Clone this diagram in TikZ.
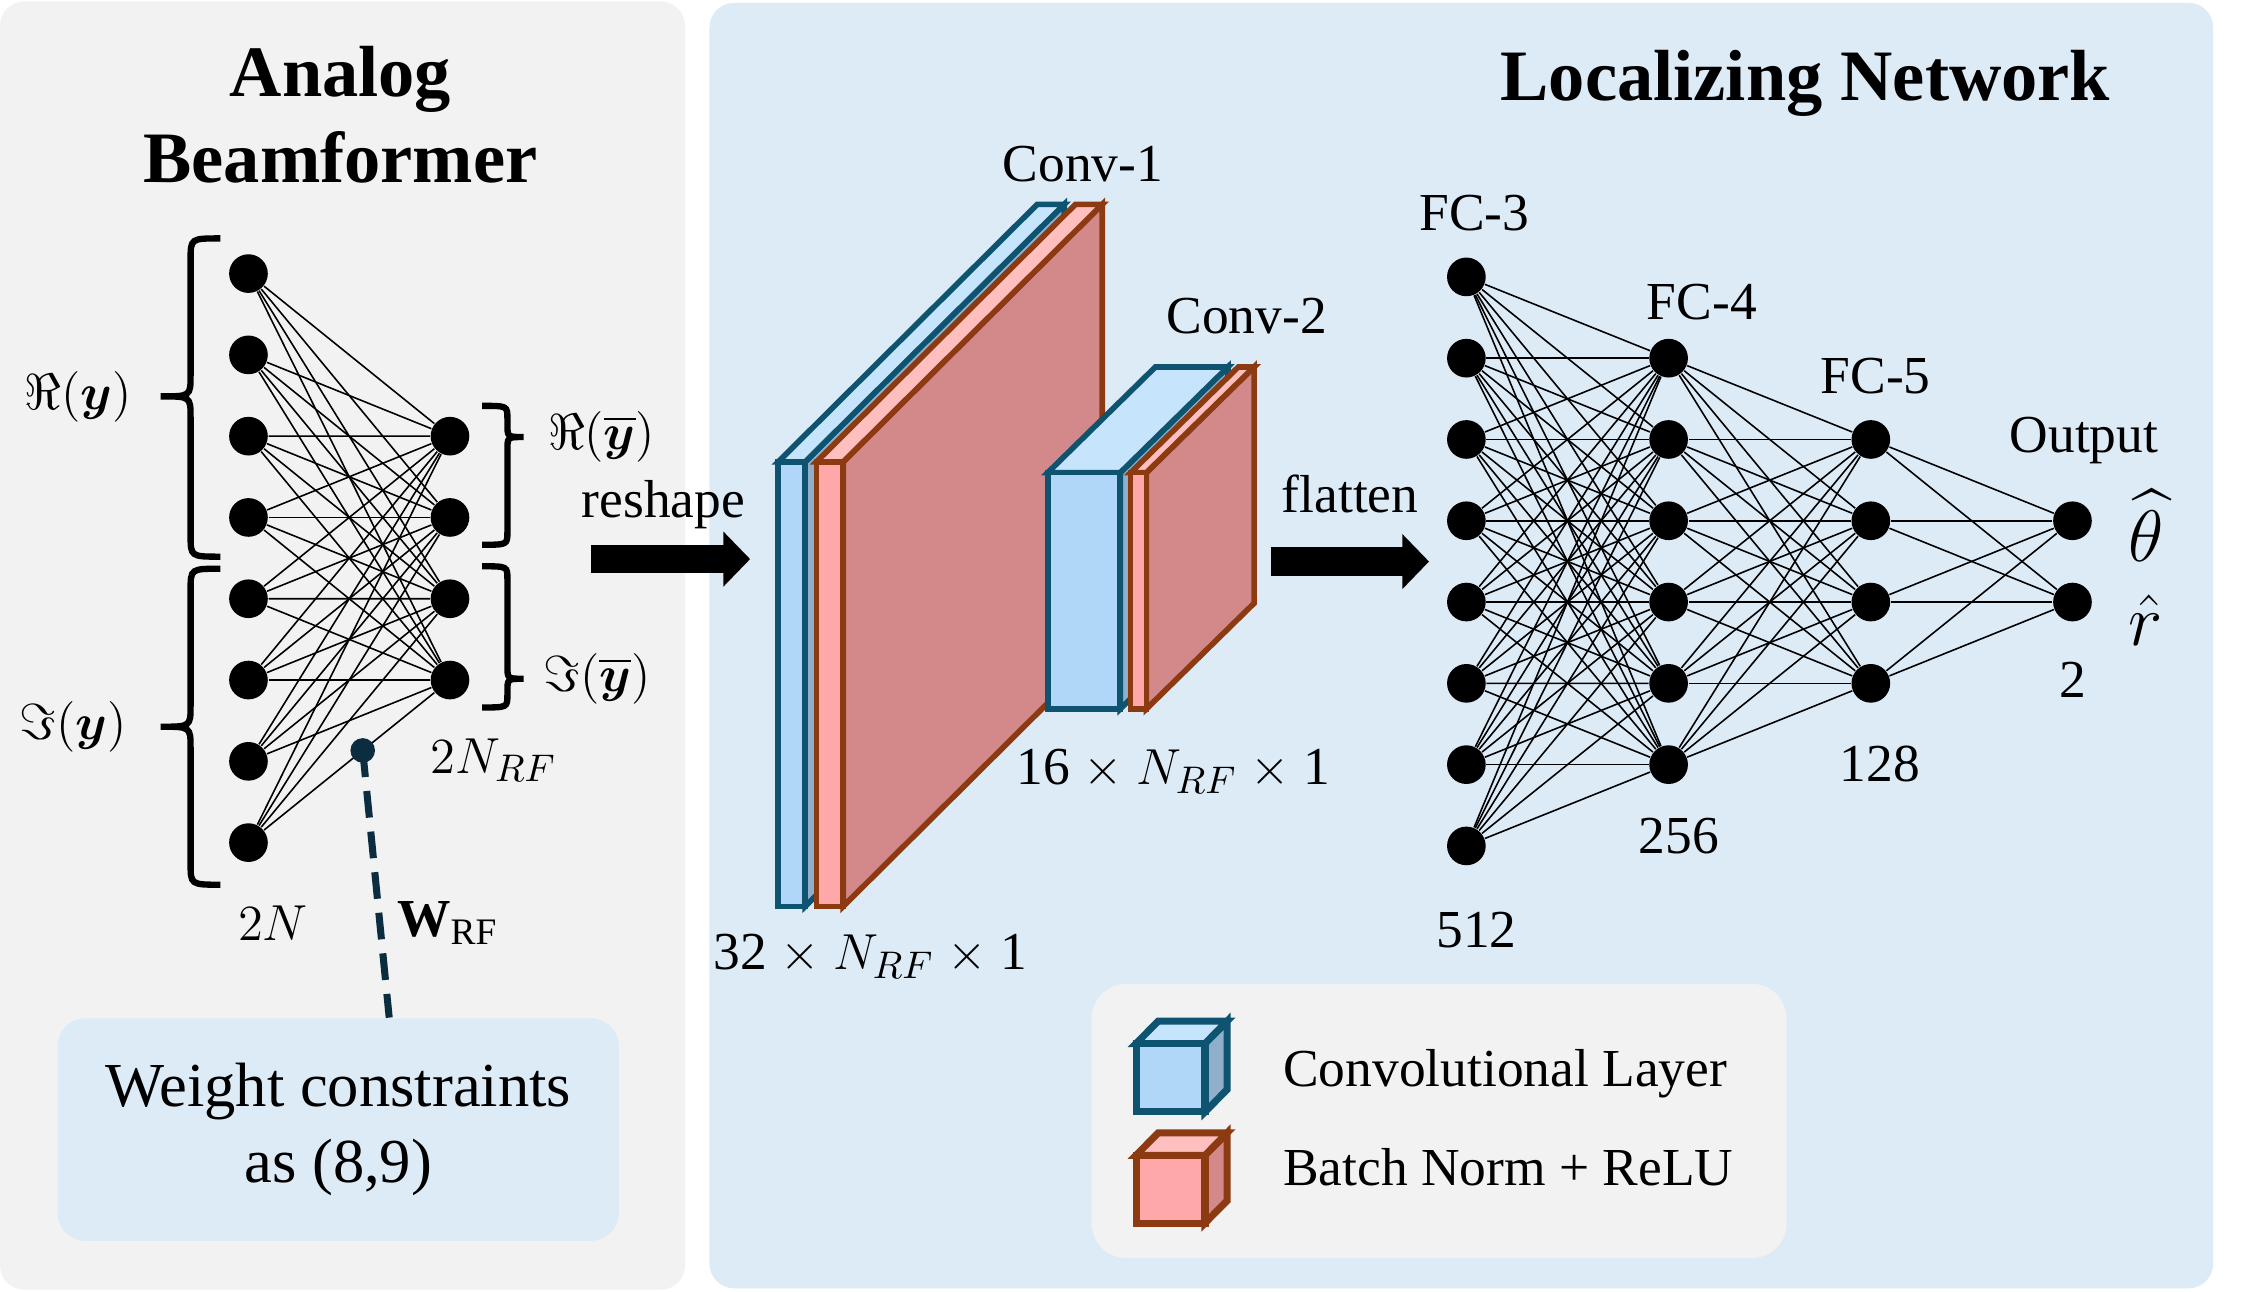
\documentclass[tikz,border=0pt]{standalone}
\usepackage{fontspec}
\setmainfont{Liberation Serif}
\usepackage{amsmath,amssymb}
\usetikzlibrary{arrows.meta,positioning,calc}

\definecolor{panelgray}{HTML}{F2F2F2}
\definecolor{panelblue}{HTML}{DDEBF7}
\definecolor{cfront}{HTML}{B0D6F8}
\definecolor{ctop}{HTML}{C6E4FC}
\definecolor{cside}{HTML}{8FAFCA}
\definecolor{cedge}{HTML}{0E5470}
\definecolor{bfront}{HTML}{FFA8A9}
\definecolor{btop}{HTML}{FFBFBF}
\definecolor{bside}{HTML}{D3898A}
\definecolor{bedge}{HTML}{8B3A12}
\definecolor{navy}{HTML}{0C2D40}

% curly brace: x end, x bar, x tip, y top, y tip, y bottom, curl
\newcommand{\sidebrace}[7]{%
  \draw[braceline] (#1,#4) .. controls (#2,#4) .. (#2,#4+#7)
    -- (#2,#5-#7) .. controls (#2,#5) .. (#3,#5)
    .. controls (#2,#5) .. (#2,#5+#7)
    -- (#2,#6-#7) .. controls (#2,#6) .. (#1,#6);}

% 3d slab: x, y (front top left), width, height, depth x, depth y, kind
\newcommand{\layerbox}[7]{%
  \begin{scope}[shift={(#1,#2)}]
    \filldraw[#7 side] (#3,0) -- ++(#5,#6) -- ++(0,#4) -- (#3,#4) -- cycle;
    \filldraw[#7 top] (0,0) -- ++(#5,#6) -- ++(#3,0) -- (#3,0) -- cycle;
    \filldraw[#7 front] (0,0) rectangle (#3,#4);
  \end{scope}}

\begin{document}
\begin{tikzpicture}[x=0.01436cm, y=-0.01436cm]
\tikzset{
	neuron/.style={circle, fill=black, minimum size=11pt, inner sep=0pt},
	synapse/.style={line width=0.45pt},
	braceline/.style={line width=1.8pt},
	lbl/.style={font=\fontsize{15.2}{18}\selectfont, inner sep=0pt},
	paneltitle/.style={font=\fontsize{20.6}{24.5}\selectfont\bfseries, align=center, inner sep=0pt},
	blockarrow/.style={line width=8pt, -{Triangle[length=7.6pt, width=15.2pt]}},
	wbdot/.style={circle, fill=navy, minimum size=7pt, inner sep=0pt},
	dashlink/.style={navy, line width=2pt, dash pattern=on 7.6pt off 4pt},
	wbox/.style={fill=panelblue, rounded corners=8pt, align=center, minimum width=159.7pt, minimum height=63.3pt, font=\fontsize{17.8}{21.8}\selectfont},
	conv front/.style={fill=cfront, draw=cedge},
	conv top/.style={fill=ctop, draw=cedge},
	conv side/.style={fill=cside, draw=cedge},
	bn front/.style={fill=bfront, draw=bedge},
	bn top/.style={fill=btop, draw=bedge},
	bn side/.style={fill=bside, draw=bedge}
}

\useasboundingbox[fill=white] (0,0) rectangle (1568,899);
\fill[panelgray, rounded corners=7pt] (0,1) rectangle (477,898);
\fill[panelblue, rounded corners=7pt] (494,2) rectangle (1541,897);
\fill[panelgray, rounded corners=10pt] (760,685) rectangle (1244,876);

\node[paneltitle] (abtitle) at (237,80) {Analog\\Beamformer};
\node[paneltitle] (lntitle) at (1257,58) {Localizing Network};

%% analog beamformer
\foreach \i in {1,...,8}
	\node[neuron] (in\i) at (173,{190.5+56.6*(\i-1)}) {};
\foreach \j in {1,...,4}
	\node[neuron] (rf\j) at (313.3,{303.7+56.6*(\j-1)}) {};
\foreach \i in {1,...,8}
	\foreach \j in {1,...,4}
		\draw[synapse] (in\i) -- (rf\j);

\sidebrace{153.5}{132.7}{111.9}{166}{276}{387.6}{15}
\sidebrace{153.5}{132.7}{111.9}{396}{506}{616}{15}
\sidebrace{335.7}{353.3}{364.5}{282.6}{304.3}{379.3}{9}
\sidebrace{335.7}{353.3}{364.5}{394.3}{472.6}{492.6}{9}

\node[lbl] (rey) at (54.3,276) {$\Re(\boldsymbol{y})$};
\node[lbl] (imy) at (51,506) {$\Im(\boldsymbol{y})$};
\node[lbl] (reyb) at (418.8,304) {$\Re(\overline{\boldsymbol{y}})$};
\node[lbl] (imyb) at (415.6,472.6) {$\Im(\overline{\boldsymbol{y}})$};
\node[lbl] (nrf) at (343.7,529.3) {$2N_{RF}$};
\node[lbl] (nin) at (190,642.6) {$2N$};
\node[lbl] (wrf) at (311.7,642.6) {$\mathbf{W}_{\mathrm{RF}}$};

\path (in8.center) -- (rf4.center) node[wbdot, pos=0.567] (wdot) {};
\node[wbox] (wbox) at (235.5,786.5) {Weight constraints\\as (8,9)};
\draw[dashlink] (wdot.center) -- ([xshift=14.5pt]wbox.north);

%% reshape
\coordinate (rsa) at (411.6,389.3);
\coordinate (rsb) at (522.3,389.3);
\draw[blockarrow] (rsa) -- (rsb);
\node[lbl] (rslbl) at (462,351.7) {reshape};

%% convolutional layers
\begin{scope}[line width=1.6pt]
\layerbox{541.8}{321.6}{18.8}{309.5}{180.4}{-179.3}{conv}
\layerbox{568.4}{321.6}{18.7}{309.5}{180.4}{-179.3}{bn}
\layerbox{729.5}{329.1}{50.5}{164.5}{75}{-73.6}{conv}
\layerbox{787.2}{329.1}{11}{164.5}{75}{-73.6}{bn}
\end{scope}
\node[lbl] (c1lbl) at (754,114) {Conv-1};
\node[lbl] (c2lbl) at (868,220) {Conv-2};
\node[lbl] (c1dim) at (606,666) {32 $\times$ $N_{RF}$ $\times$ 1};
\node[lbl] (c2dim) at (817,537) {16 $\times$ $N_{RF}$ $\times$ 1};

%% flatten
\coordinate (fla) at (885,391);
\coordinate (flb) at (995,391);
\draw[blockarrow] (fla) -- (flb);
\node[lbl] (fllbl) at (940,344) {flatten};

%% fully connected layers
\foreach \i in {1,...,8}
	\node[neuron] (fa\i) at (1021,{192.8+56.6*(\i-1)}) {};
\foreach \i in {1,...,6}
	\node[neuron] (fb\i) at (1161.8,{249.4+56.6*(\i-1)}) {};
\foreach \i in {1,...,4}
	\node[neuron] (fc\i) at (1302.6,{306+56.6*(\i-1)}) {};
\foreach \i in {1,2}
	\node[neuron] (out\i) at (1443,{362.6+56.6*(\i-1)}) {};
\foreach \i in {1,...,8}
	\foreach \j in {1,...,6}
		\draw[synapse] (fa\i) -- (fb\j);
\foreach \i in {1,...,6}
	\foreach \j in {1,...,4}
		\draw[synapse] (fb\i) -- (fc\j);
\foreach \i in {1,...,4}
	\foreach \j in {1,2}
		\draw[synapse] (fc\i) -- (out\j);

\node[lbl] (fc3lbl) at (1026.6,148.4) {FC-3};
\node[lbl] (fc4lbl) at (1185,210.6) {FC-4};
\node[lbl] (fc5lbl) at (1306,262) {FC-5};
\node[lbl] (outlbl) at (1451,306.5) {Output};
\node[lbl] (n512) at (1028,647.5) {512};
\node[lbl] (n256) at (1169,582) {256};
\node[lbl] (n128) at (1309,532) {128};
\node[lbl] (n2) at (1443,473.4) {2};
\node[lbl, font=\fontsize{20}{24}\selectfont] (thlbl) at (1494,366) {$\widehat{\theta}$};
\node[lbl, font=\fontsize{20}{24}\selectfont] (rlbl) at (1494,432) {$\hat{r}$};

%% legend
\begin{scope}[line width=2pt]
\layerbox{791}{726.6}{48}{47.6}{15.4}{-15.6}{conv}
\layerbox{791}{804.4}{48}{47.2}{15.4}{-15.6}{bn}
\end{scope}
\node[lbl, anchor=west] (lgconv) at (893,747.5) {Convolutional Layer};
\node[lbl, anchor=west] (lgbn) at (893,812.5) {Batch Norm + ReLU};
\end{tikzpicture}
\end{document}
